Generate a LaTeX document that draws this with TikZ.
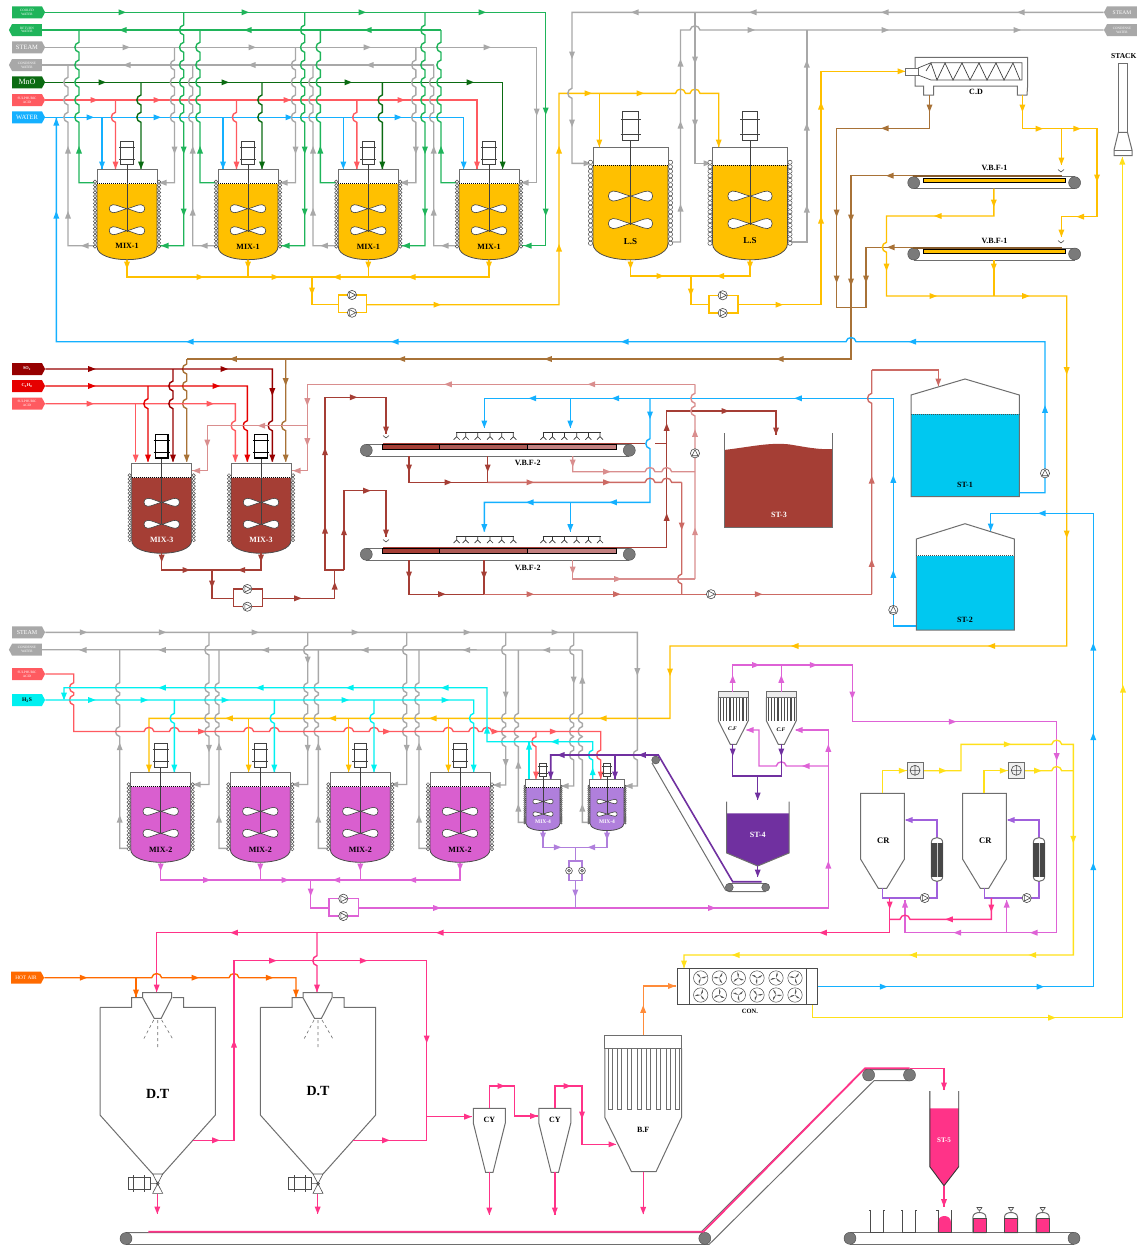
\documentclass[tikz,border=0pt]{standalone}
\usepackage{fontspec}
\setmainfont{Liberation Serif}
\usetikzlibrary{shapes.symbols}
\definecolor{cwgreen}{HTML}{1FB45A}
\definecolor{mngreen}{HTML}{0B6B12}
\definecolor{acidred}{HTML}{FF5A60}
\definecolor{wblue}{HTML}{14B0FF}
\definecolor{lgrey}{HTML}{A8A8A8}
\definecolor{gold}{HTML}{FFC000}
\definecolor{brownp}{HTML}{A87237}
\definecolor{sored}{HTML}{960000}
\definecolor{hcred}{HTML}{E60000}
\definecolor{rosep}{HTML}{D98E8E}
\definecolor{midbrick}{HTML}{CC6A64}
\definecolor{brick}{HTML}{A53E35}
\definecolor{magp}{HTML}{DE62D6}
\definecolor{mixmag}{HTML}{D95FCF}
\definecolor{cyanp}{HTML}{00F0F0}
\definecolor{purp}{HTML}{7030A0}
\definecolor{violp}{HTML}{A060DC}
\definecolor{lilac}{HTML}{B07FDC}
\definecolor{hotp}{HTML}{FF3388}
\definecolor{hotair}{HTML}{FF6A00}
\definecolor{oranp}{HTML}{FF8C3A}
\definecolor{lemon}{HTML}{FFE01A}
\definecolor{tankblue}{HTML}{00C8F0}
\definecolor{edge}{HTML}{6E6E6E}
\definecolor{drumg}{HTML}{7A7A7A}
\tikzset{
  pipe/.style={line width=1.4pt},
  edgeline/.style={draw=edge,line width=1pt},
  motor/.style={draw=black!75,line width=0.8pt,fill=white},
  lbl/.style={font=\bfseries\fontsize{8}{8}\selectfont,inner sep=0pt},
  tagtext/.style={text=white,inner sep=0pt,minimum width=33pt,minimum height=12pt,signal pointer angle=125,
    align=center,font=\fontsize{3.4}{3.8}\selectfont},
  tagright/.style={signal,signal to=east,tagtext},
  tagleft/.style={signal,signal to=west,tagtext}
}
% pipe jumps: \jv going down, \jh going right
\newcommand{\jv}[2]{\foreach \hp in {#2} {-- (#1,\hp-5) .. controls (#1-5.5,\hp-4) and (#1-5.5,\hp+4) .. (#1,\hp+5)}}
\newcommand{\jh}[2]{\foreach \hp in {#2} {-- (\hp-5,#1) .. controls (\hp-4,#1-5.5) and (\hp+4,#1-5.5) .. (\hp+5,#1)}}
% arrows along a pipe: colour, angle, list x/y
\newcommand{\arw}[3]{\foreach \ax/\ay in {#3} \fill[#1,shift={(\ax,\ay)},rotate=#2] (4,0) -- (-3.5,-3) -- (-3.5,3) -- cycle;}
\newcommand{\pump}[3]{\draw[draw=black!70,fill=white,line width=0.6pt] (#1,#2) circle[radius=4.6];
  \draw[draw=black!70,fill=white,line width=0.6pt,shift={(#1,#2)},rotate=#3] (3.6,0) -- (-2.4,-3) -- (-2.4,3) -- cycle;}
\newcommand{\minipump}[2]{\draw[draw=black!70,fill=white,line width=0.6pt] (#1,#2) circle[radius=3.4];
  \draw[draw=black!70,fill=black!30,line width=0.4pt] (#1,#2) circle[radius=1.5];}
\newcommand{\blade}[2]{\draw[draw=black!75,fill=white,line width=0.6pt,shift={(0,#1)},xscale=#2]
  (0,0) .. controls (-5,-1) and (-10,-4) .. (-14,-4) .. controls (-19,-4) and (-19,4) .. (-14,4) .. controls (-10,4) and (-5,1) .. (0,0);}
% stirred vessel: centre x, top y, scale, liquid
\newcommand{\reactor}[4]{\begin{scope}[shift={(#1,#2)},scale=#3]
  \fill[#4] (-30,14.5) -- (-30,77) .. controls (-30,94.3) and (30,94.3) .. (30,77) -- (30,14.5) -- cycle;
  \draw[edgeline] (-30,14.5) -- (-30,0) -- (30,0) -- (30,14.5);
  \draw[draw=black!70,line width=0.8pt] (-30,14.5) -- (-30,77) .. controls (-30,94.3) and (30,94.3) .. (30,77) -- (30,14.5);
  \draw[black,line width=1pt,densely dotted] (-30,14.2) -- (30,14.2);
  \foreach \by in {12,15.6,...,78} {
    \draw[draw=black!70,fill=white,line width=0.5pt] (-32,\by) circle[radius=1.7];
    \draw[draw=black!70,fill=white,line width=0.5pt] (32,\by) circle[radius=1.7];}
  \draw[black!75,line width=0.8pt] (0,-5.4) -- (0,62);
  \blade{39}{1} \blade{39}{-1} \blade{61}{1} \blade{61}{-1}
  \draw[motor] (-6.3,-28.7) rectangle (6.3,-5.4);
  \draw[motor] (-8,-22.7) -- (8,-22.7) (-8,-10.7) -- (8,-10.7);
\end{scope}}
\newcommand{\conveyor}[4]{\draw[edgeline] (#1,#3-#4) -- (#2,#3-#4) (#1,#3+#4) -- (#2,#3+#4);
  \draw[draw=black!70,fill=drumg] (#1,#3) circle[radius=#4];
  \draw[draw=black!70,fill=drumg] (#2,#3) circle[radius=#4];}
\newcommand{\chute}[2]{\draw[black!70,line width=0.6pt] (#1-3,#2-2.5) -- (#1,#2) -- (#1+3,#2-2.5);}
\newcommand{\spray}[2]{\draw[black!80,line width=0.7pt] (#1,#2) -- (#1+58,#2);
  \foreach \nz in {0.7,9.7,21.7,34,45.7,57.3} \draw[black!80,line width=0.7pt] (#1+\nz,#2) -- (#1+\nz,#2+4) (#1+\nz-3,#2+7) -- (#1+\nz,#2+4) -- (#1+\nz+3,#2+7);}
\newcommand{\strip}[1]{\fill[draw=black,fill=brick] (381.7,#1) rectangle (439.3,#1+4.8);
  \fill[draw=black,fill=midbrick!85!black] (439.3,#1) rectangle (527.3,#1+4.8);
  \fill[draw=black,fill=rosep!90!black] (527.3,#1) rectangle (615.7,#1+4.8);}
\newcommand{\fan}[3]{\draw[draw=black!70,line width=0.5pt] (#1,#2) circle[radius=7.2];
  \foreach \fa in {0,120,240} \fill[black!65,shift={(#1,#2)},rotate=#3+\fa] (0,0) .. controls (2,1.6) and (5,1.6) .. (6.2,0) .. controls (4,-0.4) and (2,-0.4) .. (0,0);}
\newcommand{\dryer}[1]{\begin{scope}[shift={(#1,0)}]
  \draw[edgeline] (-57.7,1007.3) -- (-26,1007.3) -- (-26,997.7) -- (-15,997.7) (15,997.7) -- (26,997.7) -- (26,1007.3) -- (57.7,1007.3) -- (57.7,1115) -- (5,1174) (-5,1174) -- (-57.7,1115) -- (-57.7,1007.3);
  \draw[edgeline,fill=white] (-15,992.7) -- (14,992.7) -- (14,997.7) -- (3.5,1018.3) -- (-3.5,1018.3) -- (-15,997.7) -- cycle;
  \draw[edge,dashed,line width=0.6pt] (-4,1020) -- (-14,1039) (0,1020) -- (0,1049) (4,1020) -- (15,1039);
  \draw[draw=black!70,line width=0.6pt,fill=white] (-5,1174) -- (5,1174) -- (-5,1193.3) -- (5,1193.3) -- cycle;
  \draw[black!70,line width=0.6pt] (0,1183.6) circle[radius=1.5] (-7,1183.6) -- (0,1183.6);
  \draw[black!70,line width=0.6pt] (-29.5,1177) rectangle (-7,1189.5) (-24,1175) -- (-24,1191.5) (-13,1175) -- (-13,1191.5);
\end{scope}}
\newcommand{\cyclone}[1]{\draw[edgeline,shift={(#1,0)}] (-16,1108.3) -- (16,1108.3) -- (16,1123) -- (3.7,1172.3) -- (-3.7,1172.3) -- (-16,1123) -- cycle;}
\newcommand{\bagcollector}[1]{\begin{scope}[shift={(#1,0)}]
  \foreach \bx in {-13,-9.75,...,13.1} \draw[black!70,line width=1.2pt] (\bx,697.5) -- (\bx,720.5);
  \draw[edgeline] (-15,697.3) -- (-15,720.7) -- (-3,744.3) -- (3,744.3) -- (15,720.7) -- (15,697.3);
  \draw[edgeline,fill=white!93!black] (-15,691.7) rectangle (15,697.3);
\end{scope}}
\newcommand{\crystal}[1]{\draw[edgeline,shift={(#1,0)}] (0,793.3) -- (43.6,793.3) -- (43.6,859.3) -- (26,888.3) -- (17.6,888.3) -- (0,859.3) -- cycle;}
\newcommand{\heatx}[1]{\begin{scope}[shift={(#1,0)}]
  \draw[edgeline,fill=white] (-5.7,842.5) .. controls (-5.7,836) and (5.7,836) .. (5.7,842.5) -- (5.7,876.5) .. controls (5.7,883) and (-5.7,883) .. (-5.7,876.5) -- cycle;
  \fill[black!72] (-5.7,842.5) rectangle (5.7,877);
  \draw[white!80!black,line width=0.5pt] (0,842.5) -- (0,877);
\end{scope}}
\newcommand{\blower}[2]{\draw[edgeline,fill=black!6] (#1-8,#2-8) rectangle (#1+8,#2+8);
  \draw[black!70,line width=0.6pt] (#1,#2) circle[radius=5] (#1-5,#2) -- (#1+5,#2) (#1,#2-5) -- (#1,#2+5);}
\newcommand{\openpack}[1]{\draw[black!70,line width=0.8pt] (#1-8,1210) -- (#1-6.5,1210) -- (#1-6.5,1232.5) -- (#1+6.5,1232.5) -- (#1+6.5,1210) -- (#1+8,1210);}
\newcommand{\closedpack}[1]{\draw[edgeline,fill=white] (#1-6.5,1232.5) -- (#1-6.5,1217) .. controls (#1-6.5,1211) and (#1+6.5,1211) .. (#1+6.5,1217) -- (#1+6.5,1232.5) -- cycle;
  \fill[hotp,draw=black!70] (#1-6.5,1218.5) rectangle (#1+6.5,1232.5);
  \draw[black!70,line width=0.6pt] (#1-2.5,1207.5) -- (#1+2.5,1207.5) -- (#1+1,1210) -- (#1-1,1210) -- cycle (#1,1210) -- (#1,1212.5);}

\begin{document}
\begin{tikzpicture}[x=1pt,y=-1pt]
\useasboundingbox (0,0) rectangle (1136,1245);

% inlet tags, top
\node[tagright,fill=cwgreen] (tagcool) at (27,12.3) {COOLED\\WATER};
\node[tagleft,fill=cwgreen] (tagret) at (27,30) {RETURN\\WATER};
\node[tagright,fill=lgrey,font=\fontsize{6.5}{7}\selectfont] (tagsteam) at (27,47.3) {STEAM};
\node[tagleft,fill=lgrey] (tagcond) at (27,65) {CONDENSE\\WATER};
\node[tagright,fill=mngreen,font=\fontsize{8}{8}\selectfont] (tagmno) at (27,82.3) {MnO};
\node[tagright,fill=acidred] (tagacid) at (27,100) {SULPHURIC\\ACID};
\node[tagright,fill=wblue,font=\fontsize{6.5}{7}\selectfont] (tagwater) at (27,117.3) {WATER};

% headers
\draw[pipe,cwgreen] (tagcool.east) -- (545.7,12.3) -- (545.7,245.7) -- (522,245.7);
\draw[pipe,cwgreen] (tagret.east) -- (441,30);
\draw[pipe,lgrey] (tagsteam.east) -- (536.7,47.3) -- (536.7,182.7) -- (522,182.7);
\draw[pipe,lgrey] (tagcond.east) -- (433.7,65);
\draw[pipe,mngreen] (tagmno.east) -- (502.7,82.3) -- (502.7,169);
\draw[pipe,acidred] (tagacid.east) -- (477,100) -- (477,169);
\draw[pipe,wblue] (tagwater.east) -- (463.7,117.3) -- (463.7,169);
\arw{cwgreen}{0}{122/12.3,245/12.3,362/12.3,482/12.3}
\arw{cwgreen}{180}{123/30,248/30,368/30}
\arw{lgrey}{0}{126/47.3,252/47.3,367/47.3,487/47.3}
\arw{lgrey}{180}{127/65,252/65,370/65}
\arw{mngreen}{0}{102/82.3,225/82.3,348/82.3,470/82.3}
\arw{acidred}{0}{94/100,157/100,287/100,401/100}
\arw{wblue}{0}{90/117.3,157/117.3,289/117.3,398/117.3}
\arw{cwgreen}{270}{545.7/111,545.7/212}
\arw{lgrey}{270}{536.7/112}

% branches of MIX-1
\draw[pipe,lgrey] (68,65) \jv{68}{82.3,100,117.3} -- (68,245.7) -- (95,245.7);
\arw{lgrey}{90}{68/150,68/215}
\arw{lgrey}{180}{85/245.7}
\foreach \cx in {127,248,368.3,489} {
  \draw[pipe,cwgreen] (\cx-48,30) \jv{\cx-48}{47.3,65,82.3,100,117.3} -- (\cx-48,182.7) -- (\cx-32,182.7);
  \arw{cwgreen}{90}{\cx-48/150}
}
\foreach \cx in {248,368.3,489} {
  \draw[pipe,lgrey] (\cx-55.3,65) \jv{\cx-55.3}{82.3,100,117.3} -- (\cx-55.3,245.7) -- (\cx-32,245.7);
  \arw{lgrey}{90}{\cx-55.3/150,\cx-55.3/212}
  \arw{lgrey}{180}{\cx-44/245.7}
}
\foreach \cx in {127,248,368.3} {
  \draw[pipe,wblue] (\cx-25,117.3) -- (\cx-25,169);
  \draw[pipe,acidred] (\cx-11.5,100) \jv{\cx-11.5}{117.3} -- (\cx-11.5,169);
  \draw[pipe,mngreen] (\cx+14,82.3) \jv{\cx+14}{100,117.3} -- (\cx+14,169);
  \draw[pipe,lgrey] (\cx+47.5,47.3) \jv{\cx+47.5}{65,82.3,100,117.3} -- (\cx+47.5,182.7) -- (\cx+32,182.7);
  \draw[pipe,cwgreen] (\cx+56.7,12.3) \jv{\cx+56.7}{30,47.3,65,82.3,100,117.3} -- (\cx+56.7,245.7) -- (\cx+32,245.7);
  \arw{wblue}{270}{\cx-25/165}
  \arw{acidred}{270}{\cx-11.5/165}
  \arw{mngreen}{270}{\cx+14/165}
  \arw{lgrey}{270}{\cx+47.5/150}
  \arw{lgrey}{180}{\cx+36/182.7}
  \arw{cwgreen}{270}{\cx+56.7/150,\cx+56.7/212}
  \arw{cwgreen}{180}{\cx+38/245.7}
}
\arw{wblue}{270}{463.7/165}
\arw{acidred}{270}{477/165}
\arw{mngreen}{270}{502.7/165}
\arw{lgrey}{180}{525/182.7}
\arw{cwgreen}{180}{528/245.7}

% MIX-1 vessels
\foreach \cx in {127,248,368.3,489} \reactor{\cx}{169.7}{1}{gold};
\node[lbl] (mixa) at (127,245.5) {MIX-1};
\node[lbl] (mixb) at (248,246.5) {MIX-1};
\node[lbl] (mixc) at (368.3,246.5) {MIX-1};
\node[lbl] (mixd) at (489,246.5) {MIX-1};

% MIX-1 discharge
\draw[pipe,gold] (127,260) -- (127,277) -- (489,277) -- (489,260);
\draw[pipe,gold] (248,260) -- (248,277) (368.3,260) -- (368.3,277);
\draw[pipe,gold] (312,277) -- (312,304.7) -- (338.3,304.7) -- (338.3,295) -- (366.7,295) -- (366.7,312.7) -- (338.3,312.7) -- (338.3,304.7);
\draw[pipe,gold] (366.7,304.7) -- (559,304.7) -- (559,93.3) -- (572,93.3) \jh{93.3}{680.5,695} -- (718.7,93.3) -- (718.7,147);
\draw[pipe,gold] (599.3,93.3) -- (599.3,147);
\arw{gold}{270}{127/265,248/265,368.3/265,489/265,312/291,599.3/143,718.7/143}
\arw{gold}{0}{200/277,275/277,437/304.7,588/93.3,640/93.3}
\arw{gold}{180}{337/277,412/277}
\arw{gold}{90}{559/248,559/150}
\pump{352}{295}{0}
\pump{352}{312.7}{0}

% L.S vessels and steam
\node[tagleft,fill=lgrey,font=\fontsize{5.5}{6}\selectfont] (tagsteamr) at (1122,12.3) {STEAM};
\node[tagleft,fill=lgrey] (tagcondr) at (1122,30) {CONDENSE\\WATER};
\draw[pipe,lgrey] (tagsteamr.west) -- (572,12.3) \jv{572}{93.3} -- (572,163.3) -- (590,163.3);
\draw[pipe,lgrey] (695,12.3) -- (695,163.3) -- (709,163.3);
\draw[pipe,lgrey] (tagcondr.west) -- (700,30) .. controls (699,24.5) and (691,24.5) .. (690,30) -- (680.5,30) -- (680.5,242) -- (671,242);
\draw[pipe,lgrey] (806.8,30) -- (806.8,242) -- (790,242);
\arw{lgrey}{180}{1021/12.3,885/12.3,753/12.3,635/12.3}
\arw{lgrey}{0}{751/30,885/30,1017/30,587/163.3,707/163.3}
\arw{lgrey}{270}{572/55,572/123,695/60,695/123}
\arw{lgrey}{90}{680.5/63,680.5/125,680.5/208,806.8/64,806.8/127,806.8/209}
\reactor{630.5}{147.3}{1.25}{gold}
\reactor{750}{147.3}{1.25}{gold}
\node[lbl,font=\bfseries\fontsize{9}{9}\selectfont] (lsa) at (630.5,242) {L.S};
\node[lbl,font=\bfseries\fontsize{9}{9}\selectfont] (lsb) at (750,241) {L.S};
\draw[pipe,gold] (630.5,260) -- (630.5,276) -- (750,276) -- (750,260);
\draw[pipe,gold] (690.8,276) -- (690.8,304.7) -- (708.8,304.7) -- (708.8,295.3) -- (737.8,295.3) -- (737.8,313) -- (708.8,313) -- (708.8,304.7);
\draw[pipe,gold] (737.8,304.7) -- (821,304.7) -- (821,71.3) -- (905,71.3);
\arw{gold}{270}{630.5/265,750/265,690.8/292}
\arw{gold}{0}{660/276,779/304.7,901/71.3}
\arw{gold}{180}{720.5/276}
\arw{gold}{90}{821/220,821/106}
\pump{722.7}{295.3}{0}
\pump{722.7}{313}{0}

% C.D screw
\draw[edgeline,fill=white] (915,57.3) -- (1027.6,57.3) -- (1027.6,86) -- (1027,95) -- (1017.3,95) -- (1017.3,86) -- (933.6,86) -- (933.6,95) -- (923.6,95) -- (923.6,86) -- (915,86) -- cycle;
\draw[edgeline,fill=white] (905.6,68.3) rectangle (918,75);
\draw[black!70,line width=0.7pt] (918,68) -- (931,62.7) -- (1022,62.7) -- (1022,80) -- (931,80) -- (918,75);
\draw[black!75,line width=0.7pt] (926,71) -- (931,63) -- (937,80) -- (945,63) -- (953,80) -- (962,63) -- (970,80) -- (979,63) -- (987,80) -- (996,63) -- (1004,80) -- (1013,63) -- (1020,80);
\node[lbl] (cdlabel) at (976,91.7) {C.D};

% V.B.F-1 belts
\conveyor{913.7}{1074.6}{182.7}{6}
\conveyor{913.7}{1074.6}{254}{6}
\draw[draw=black,fill=gold] (923.3,177.7) rectangle (1064.7,181.7);
\draw[draw=black,fill=gold] (923.3,249) rectangle (1064.7,253);
\chute{1061}{172}
\chute{1061}{243}
\node[lbl] (vbfa) at (994.5,167.7) {V.B.F-1};
\node[lbl] (vbfb) at (994.5,240.7) {V.B.F-1};

% brown cake
\draw[pipe,brownp] (929.5,95) -- (929.5,128.3) -- (836.6,128.3) -- (836.6,307.3) -- (866,307.3) -- (866,247.3) -- (1062,247.3);
\draw[pipe,brownp] (1062,175.7) -- (851,175.7) -- (851,359) -- (186.7,359);
\draw[brownp!80!black,line width=1.8pt] (912.6,176.2) -- (1062,176.2) (912.6,247.8) -- (1062,247.8);
\draw[pipe,brownp] (186.7,359) \jv{186.7}{369,386,403.7} -- (186.7,461.7);
\draw[pipe,brownp] (285.7,359) \jv{285.7}{425.7} -- (285.7,461.7);
\arw{brownp}{270}{929.5/108,836.6/213,836.6/279,851/218,851/282,866/279,285.7/381.7,186.7/458,285.7/458}
\arw{brownp}{180}{885/128.3,890/175.7,891/247.3,780/359,548.3/359,401.7/359,233.3/359}

% filtrate
\draw[pipe,gold] (993.8,188.7) -- (993.8,216) -- (886.5,216) \jv{886.5}{247.3} -- (886.5,296) -- (1066.7,296) -- (1066.7,646) -- (670,646) -- (670,718.3) -- (149,718.3) -- (149,772);
\draw[pipe,gold] (993.8,259.8) -- (993.8,296);
\draw[pipe,gold] (1022.4,95) -- (1022.4,128.7) -- (1097,128.7) -- (1097,216.7) -- (1061.4,216.7) -- (1061.4,237);
\draw[pipe,gold] (1061.4,128.7) -- (1061.4,165);
\arw{gold}{270}{1022.4/108,1097/178,1061.4/161,1061.4/233,993.8/203,993.8/267,886.5/267,1066.7/370.7,1066.7/534,670/672}
\arw{gold}{0}{1039/128.7,1076.8/128.7,933/296,1025.7/296}
\arw{gold}{180}{1080.5/216.7,938/216,991.7/646,795/646,603/718.3,433/718.3,332.7/718.3,229.3/718.3}

% stack
\draw[edgeline,fill=white] (1118.3,63.3) rectangle (1127.5,132.3);
\draw[edgeline,fill=white] (1118.3,132.3) -- (1114,150) -- (1114,155.7) -- (1132,155.7) -- (1132,150) -- (1127.5,132.3) -- cycle;
\draw[edgeline] (1114,150) -- (1132,150);
\node[lbl,font=\bfseries\fontsize{7.5}{8}\selectfont] (stacklabel) at (1123.8,56) {STACK};
\draw[pipe,lemon] (812.7,1004.3) -- (812.7,1017.7) -- (1122.3,1017.7) -- (1122.3,157);
\arw{lemon}{90}{1122.3/161,1123/689}
\arw{lemon}{0}{1051.7/1017.7}

% water return
\draw[pipe,wblue] (56.3,117.3) -- (56.3,341.7) \jh{341.7}{851} -- (1045,341.7) -- (1045,492.7) -- (1019.3,492.7);
\arw{wblue}{90}{56.3/122,56.3/215,1045/409.3}
\arw{wblue}{180}{912.6/341.7,625/341.7,395/341.7,190/341.7}
\pump{1045}{473.3}{90}

% inlet tags, MIX-3
\node[tagright,fill=sored,font=\fontsize{4.4}{5}\bfseries\selectfont] (tagso) at (27,369) {SO\textsubscript{2}};
\node[tagright,fill=hcred,font=\fontsize{4.4}{5}\bfseries\selectfont] (tagch) at (27,386) {C\textsubscript{4}H\textsubscript{8}};
\node[tagright,fill=acidred] (tagacidb) at (27,403.7) {SULPHURIC\\ACID};
\draw[pipe,sored] (tagso.east) -- (272.3,369) \jv{272.3}{425.7} -- (272.3,461.7);
\draw[pipe,hcred] (tagch.east) -- (247.3,386) \jv{247.3}{425.7} -- (247.3,461.7);
\draw[pipe,acidred] (tagacidb.east) -- (235.3,403.7) \jv{235.3}{425.7} -- (235.3,461.7);
\draw[pipe,acidred] (135.7,403.7) -- (135.7,461.7);
\draw[pipe,hcred] (148,386) \jv{148}{403.7} -- (148,461.7);
\draw[pipe,sored] (173,369) \jv{173}{386,403.7} -- (173,461.7);
\arw{sored}{0}{91.7/369,224/369}
\arw{hcred}{0}{91.7/386,216/386}
\arw{acidred}{0}{90/403.7,210/403.7}
\arw{sored}{270}{272.3/391.7,173/458,272.3/458}
\arw{hcred}{270}{148/458,247.3/458}
\arw{acidred}{270}{135.7/458,235.3/458}

% MIX-3 vessels
\begin{scope}[motor/.append style={draw=black,line width=1.3pt}]
\reactor{161.7}{463.3}{1}{brick}
\reactor{261}{463.3}{1}{brick}
\end{scope}
\node[lbl,text=white] (mixe) at (161.7,540) {MIX-3};
\node[lbl,text=white] (mixf) at (261,540) {MIX-3};
\draw[pipe,brick] (161.7,553) -- (161.7,570) -- (261,570) -- (261,553);
\draw[pipe,brick] (212,570) -- (212,598.3) -- (233.3,598.3) -- (233.3,589) -- (262.7,589) -- (262.7,606.7) -- (233.3,606.7) -- (233.3,598.3);
\draw[pipe,brick] (262.7,598.3) -- (334.7,598.3) -- (334.7,570);
\draw[pipe,brick] (344,570) -- (325,570) -- (325,397.3) -- (386,397.3) -- (386,434.3);
\draw[pipe,brick] (344,570) -- (344,490.7) -- (386,490.7) -- (386,536.7);
\arw{brick}{270}{161.7/558,261/558,212/584,386/430,386/533}
\arw{brick}{0}{186/570,297.7/598.3,353.3/397.3,366.7/490.7}
\arw{brick}{180}{241.7/570}
\arw{brick}{90}{334.7/586,325/451.7,325/530,344/531.7}
\pump{247.3}{589}{0}
\pump{247.3}{606.7}{0}

% V.B.F-2 belts
\conveyor{366.3}{629.3}{450.3}{6}
\conveyor{366.3}{629.3}{554.3}{6}
\strip{444.3}
\strip{548.3}
\spray{456}{432.7}
\spray{542.7}{432.7}
\spray{456}{536}
\spray{542.7}{536}
\chute{386}{438}
\chute{386}{542}
\node[lbl] (vbfc) at (527.7,463.3) {V.B.F-2};
\node[lbl] (vbfd) at (527.7,568.3) {V.B.F-2};

% wash water, ST-1 and ST-2
\draw[pipe,wblue] (484.3,428) -- (484.3,398.3) -- (893.3,398.3) -- (893.3,626) -- (916.3,626);
\draw[pipe,wblue] (570.3,398.3) -- (570.3,428);
\draw[pipe,wblue] (650,398.3) \jv{650}{443.7} -- (650,502.3) -- (484.3,502.3) -- (484.3,531.7);
\draw[pipe,wblue] (570.3,502.3) -- (570.3,531.7);
\arw{wblue}{180}{532.7/398.3,615.7/398.3,798.3/398.3,613.3/502.3,530/502.3}
\arw{wblue}{270}{650/415,484.3/424,570.3/424,484.3/527.7,570.3/527.7}
\arw{wblue}{90}{893.3/479.3,893.3/574.3}
\pump{893.3}{610}{90}

% cake and wash liquors
\draw[pipe,brick] (383,443.5) -- (645,443.5) (655,443.5) -- (666.7,443.5);
\draw[pipe,brick] (383,547.5) -- (666.7,547.5) -- (666.7,411) -- (776,411) -- (776,435);
\arw{brick}{90}{666.7/427.3,666.7/517.3}
\arw{brick}{0}{725/411}
\arw{brick}{270}{776/431}
\draw[pipe,brick] (409,456) -- (409,482.3) -- (487.7,482.3) -- (487.7,456);
\draw[pipe,brick] (409,560) -- (409,594.2) -- (484,594.2) -- (484,560);
\draw[pipe,midbrick] (487.7,482.3) \jh{482.3}{650,666.7} -- (681.7,482.3);
\draw[pipe,midbrick] (681.7,482.3) \jv{681.7}{579} -- (681.7,594.2);
\draw[pipe,midbrick] (484,594.2) -- (871.7,594.2);
\draw[pipe,midbrick] (871.7,370) \jv{871.7}{398.3} -- (871.7,594.2);
\draw[pipe,midbrick] (871.7,370) -- (938.3,370) -- (938.3,386);
\draw[pipe,rosep] (572.7,456) -- (572.7,471.7) \jh{471.7}{650,666.7} -- (695,471.7);
\draw[pipe,rosep] (572.7,560) -- (572.7,579) -- (695,579);
\draw[pipe,rosep] (695,384.3) \jv{695}{398.3,411} -- (695,579);
\draw[pipe,rosep] (695,384.3) -- (307.3,384.3) -- (307.3,470.7) -- (292,470.7);
\draw[pipe,rosep] (307.3,425.7) -- (207.3,425.7) -- (207.3,470.7) -- (192,470.7);
\arw{brick}{270}{409/468,487.7/468,409/575,484/575}
\arw{brick}{0}{448/482.3,441.7/594.2}
\arw{midbrick}{0}{530/482.3,606.7/482.3,530/594.2,616.7/594.2,758.3/594.2}
\arw{midbrick}{270}{681.7/526,938.3/382}
\arw{midbrick}{90}{871.7/480,871.7/563.3}
\arw{rosep}{270}{572.7/463,572.7/570,307.3/401.7,307.3/441.7,207.3/443}
\arw{rosep}{0}{606.7/471.7,617.7/579}
\arw{rosep}{90}{695/531.7,695/433.3}
\arw{rosep}{180}{591.7/384.3,448.3/384.3,261.7/425.7,297/470.7,196.7/470.7}
\pump{695}{453.3}{90}
\pump{711}{594.2}{0}

% storage tanks
\fill[brick] (724,450) .. controls (750,447) and (770,442) .. (790,444.5) .. controls (805,447) and (820,450) .. (832.7,449) -- (832.7,527.3) -- (724,527.3) -- cycle;
\draw[edgeline] (724,433.3) -- (724,527.3) -- (832.7,527.3) -- (832.7,433.3);
\node[lbl,text=white] (stc) at (779,515) {ST-3};
\fill[tankblue] (911,414) rectangle (1019.3,496.7);
\draw[edgeline] (911,496.7) -- (911,395) -- (965,379) -- (1019.3,395) -- (1019.3,496.7) -- cycle;
\draw[black!70,line width=1pt,densely dotted] (911,414) -- (1019.3,414);
\node[lbl] (sta) at (965,485) {ST-1};
\fill[tankblue] (916.3,555.7) rectangle (1014.3,630);
\draw[edgeline] (916.3,630) -- (916.3,539) -- (965,523.7) -- (1014.3,539) -- (1014.3,630) -- cycle;
\draw[black!70,line width=1pt,densely dotted] (916.3,555.7) -- (1014.3,555.7);
\node[lbl] (stb) at (965,620) {ST-2};
\draw[pipe,wblue] (816.7,986.7) -- (1093.3,986.7) -- (1093.3,513.3) -- (990.7,513.3) -- (990.7,530.7);
\arw{wblue}{0}{883.3/986.7,1040/986.7}
\arw{wblue}{90}{1093.3/866.7,1093.3/736.7,1093.3/647}
\arw{wblue}{180}{1042/513.3}
\arw{wblue}{270}{990.7/527}

% inlet tags, MIX-2
\node[tagright,fill=lgrey,font=\fontsize{6}{7}\selectfont] (tagsteamb) at (27,632.3) {STEAM};
\node[tagleft,fill=lgrey] (tagcondb) at (27,649.7) {CONDENSE\\WATER};
\node[tagright,fill=acidred] (tagacidc) at (27,674) {SULPHURIC\\ACID};
\node[tagright,fill=cyanp,text=black,font=\fontsize{5.5}{6}\bfseries\selectfont] (tagsulf) at (27,700) {H\textsubscript{2}S};
\draw[pipe,lgrey] (tagsteamb.east) -- (637.3,632.3) \jv{637.3}{755} -- (637.3,786) -- (625,786);
\draw[pipe,lgrey] (tagcondb.east) -- (582.3,650);
\arw{lgrey}{0}{83.3/632.3,162.3/632.3,255/632.3,355/632.3,467/632.3,555/632.3}
\arw{lgrey}{180}{83/650,162.3/650,265.7/650,365/650,466.7/650,546.7/650}
\foreach \sx/\sv in {209/192,307.7/292,406.7/392} {
  \draw[pipe,lgrey] (\sx,632.3) \jv{\sx}{650,687.7,700,718.3,731.5} -- (\sx,784.5) -- (\sv,784.5);
  \arw{lgrey}{270}{\sx/748.3}
  \arw{lgrey}{180}{\sx-12/784.5}
}
\draw[pipe,lgrey] (505.7,632.3) \jv{505.7}{650,718.3,731.5,741.7} -- (505.7,785) -- (493,785);
\draw[pipe,lgrey] (573.7,632.3) \jv{573.7}{650,718.3,731.5,741.7,755} -- (573.7,786) -- (561,786);
\arw{lgrey}{270}{307.7/660,505.7/695,505.7/762.7,573.7/680,637.3/671.7}
\arw{lgrey}{180}{497/785,565/786,629/786}
\foreach \cdx/\cdv in {219/230.5,318.3/330,419/430} {
  \draw[pipe,lgrey] (\cdx,650) \jv{\cdx}{687.7,700,718.3,731.5} -- (\cdx,848.3) -- (\cdv,848.3);
  \arw{lgrey}{90}{\cdx/746.7,\cdx/819}
}
\draw[pipe,lgrey] (119.7,650) \jv{119.7}{687.7,700,731.5} -- (119.7,848.3) -- (130,848.3);
\arw{lgrey}{90}{119.7/746.7,119.7/819}
\draw[pipe,lgrey] (518.3,650) \jv{518.3}{718.3,731.5,741.7} -- (518.3,822.3) -- (526,822.3);
\draw[pipe,lgrey] (582.3,650) \jv{582.3}{718.3,731.5,741.7,755} -- (582.3,822.3) -- (590,822.3);
\arw{lgrey}{90}{518.3/765,518.3/808,582.3/680,582.3/808}

% acid and H2S
\draw[pipe,acidred] (tagacidc.east) -- (73.7,674) \jv{73.7}{687.7,700} -- (73.7,731.5) \jh{731.5}{149,174.3,248.7,274.3,348.7,374,448.3,473.7,487} -- (600.7,731.5) \jv{600.7}{755} -- (600.7,779);
\draw[pipe,acidred] (536,731.5) \jv{536}{741.7} -- (536,779);
\arw{acidred}{0}{201.7/731.5,386.7/731.5,495/731.5,553.3/731.5}
\arw{acidred}{270}{536/775,600.7/775}
\draw[pipe,cyanp] (tagsulf.east) -- (473.7,700) \jv{473.7}{718.3} -- (473.7,772);
\foreach \hx in {174.3,274.3,374} {
  \draw[pipe,cyanp] (\hx,700) \jv{\hx}{718.3} -- (\hx,772);
  \arw{cyanp}{270}{\hx/768}
}
\draw[pipe,cyanp] (64,699) -- (64,687.7) -- (487,687.7) -- (487,741.7) -- (592.7,741.7) \jv{592.7}{755} -- (592.7,779);
\draw[pipe,cyanp] (529,741.7) -- (529,779);
\arw{cyanp}{0}{91.7/700,144/700,225/700,345/700,445/700}
\arw{cyanp}{180}{162.3/687.7,260/687.7,350/687.7,445/687.7,555/741.7}
\arw{cyanp}{270}{64/696,473.7/768}
\arw{cyanp}{90}{487/730,529/746,592.7/771.7}
\foreach \yx in {248.7,348.7,448.3} {
  \draw[pipe,gold] (\yx,718.3) -- (\yx,772);
  \arw{gold}{270}{\yx/768}
}
\arw{gold}{270}{149/768}

% MIX-2 and MIX-4 vessels
\foreach \cx in {160.7,260.3,360.3,460} \reactor{\cx}{772.3}{1}{mixmag};
\node[lbl] (mixg) at (160.7,849.5) {MIX-2};
\node[lbl] (mixh) at (260.3,849.5) {MIX-2};
\node[lbl] (mixi) at (360.3,849.5) {MIX-2};
\node[lbl] (mixj) at (460,849.5) {MIX-2};
\reactor{543}{779.3}{0.57}{lilac}
\reactor{607}{779.3}{0.57}{lilac}
\node[lbl,text=white,font=\bfseries\fontsize{5.5}{6}\selectfont] (mixk) at (543,822) {MIX-4};
\node[lbl,text=white,font=\bfseries\fontsize{5.5}{6}\selectfont] (mixl) at (607,822) {MIX-4};

% MIX-2 discharge, C.F feed
\draw[pipe,magp] (160.7,862.7) -- (160.7,880) -- (460,880) -- (460,862.7);
\draw[pipe,magp] (260.3,862.7) -- (260.3,880) (360.3,862.7) -- (360.3,880);
\draw[pipe,magp] (310.7,880) -- (310.7,908) -- (329,908) -- (329,898.7) -- (358.3,898.7) -- (358.3,916) -- (329,916) -- (329,908);
\draw[pipe,magp] (358.3,908) -- (828.3,908) -- (828.3,730) -- (796,730);
\draw[pipe,magp] (746.7,730) -- (759,730) -- (759,766) \jh{766}{781.3} -- (828.3,766);
\arw{magp}{270}{160.7/867,260.3/867,360.3/867,460/867,310.7/892}
\arw{magp}{0}{206.7/880,285/880,436.7/908,711.7/908}
\arw{magp}{180}{336.7/880,412.7/880,799/730,750/730,806/766}
\arw{magp}{90}{828.3/865,828.3/748.3}
\pump{343.3}{898.7}{0}
\pump{343.3}{916}{0}

% MIX-4 discharge
\draw[pipe,lilac] (543,830.7) -- (543,847.3) -- (607,847.3) -- (607,830.7);
\draw[pipe,lilac] (575.3,847.3) -- (575.3,861) -- (569,861) -- (569,880.7) -- (582,880.7) -- (582,861) -- (575.3,861);
\draw[pipe,lilac] (575.3,880.7) -- (575.3,907.7);
\arw{lilac}{270}{543/836,607/836,575.3/893}
\arw{lilac}{0}{557.3/847.3}
\arw{lilac}{180}{591.7/847.3}
\minipump{569}{870.7}
\minipump{582}{870.7}

% C.F and ST-4
\bagcollector{733.3}
\bagcollector{781.3}
\node[lbl,font=\bfseries\itshape\fontsize{5.5}{6}\selectfont] (cfa) at (732.5,729) {C.F};
\node[lbl,font=\bfseries\itshape\fontsize{5.5}{6}\selectfont] (cfb) at (781,730) {C.F};
\draw[pipe,magp] (732.7,691.7) -- (732.7,665) -- (852.3,665) -- (852.3,721.7) -- (1056.7,721.7) -- (1056.7,932.7) -- (905,932.7) -- (905,900);
\draw[pipe,magp] (781.3,691.7) -- (781.3,665);
\draw[pipe,magp] (1006.7,932.7) -- (1006.7,900);
\arw{magp}{90}{732.7/679.3,781.3/679.3,905/904,1006.7/904}
\arw{magp}{0}{755.7/665,813.3/665,952.3/721.7}
\arw{magp}{270}{852.3/695,1056.7/756.7}
\arw{magp}{180}{1034/932.7,957.7/932.7}
\draw[pipe,purp] (732.7,744.3) -- (732.7,776) -- (781.3,776) -- (781.3,744.3);
\draw[pipe,purp] (757.7,776) -- (757.7,800);
\arw{purp}{270}{732.7/752,781.3/752,757.7/796}
\fill[purp] (726.7,813.3) -- (789,813.3) -- (789,853) -- (757.7,866) -- (726.7,853) -- cycle;
\draw[edgeline] (726.7,801.7) -- (726.7,853) -- (757.7,866) -- (789,853) -- (789,801.7);
\node[lbl,text=white] (std) at (757.7,835) {ST-4};
\draw[pipe,purp] (757.7,866) -- (757.7,877);
\arw{purp}{270}{757.7/873}

% belt to MIX-4
\draw[edgeline] (652,763) -- (725.5,890) -- (729,891.5) -- (765.7,891.5);
\draw[edgeline] (729,883) -- (765.7,883);
\draw[draw=black!70,fill=drumg] (655.7,760) circle[radius=4];
\draw[draw=black!70,fill=drumg] (729.3,887.3) circle[radius=4];
\draw[draw=black!70,fill=drumg] (765.7,887.3) circle[radius=4];
\draw[pipe,purp,line width=1.6pt] (761.7,881.7) -- (732.7,881.7) -- (658.3,755) -- (550.7,755) -- (550.7,779);
\draw[pipe,purp] (615,755) -- (615,779);
\arw{purp}{180}{642.3/755,561/755}
\arw{purp}{270}{550.7/775,615/775}

% crystallizers
\crystal{860.7}
\crystal{962.7}
\node[lbl,font=\bfseries\fontsize{8.5}{9}\selectfont] (cra) at (883.3,840.7) {CR};
\node[lbl,font=\bfseries\fontsize{8.5}{9}\selectfont] (crb) at (985.3,840.7) {CR};
\draw[pipe,lemon] (882.3,793.3) -- (882.3,770.7) -- (907,770.7);
\draw[pipe,lemon] (923,770.7) -- (961,770.7) -- (961,744.3) \jh{744.3}{1056.7} -- (1073.3,744.3) -- (1073.3,955) -- (684,955) -- (684,967.7);
\draw[pipe,lemon] (984,793.3) -- (984,770.7) -- (1008.3,770.7);
\draw[pipe,lemon] (1024.3,770.7) \jh{770.7}{1056.7} -- (1073.3,770.7);
\arw{lemon}{0}{902.3/770.7,942.7/770.7,1007.3/744.3,1003.3/770.7,1037.7/770.7}
\arw{lemon}{270}{1073.3/839.3,684/964}
\arw{lemon}{180}{1032.7/955,913.3/955,736/955}
\blower{915}{770.3}
\blower{1016.3}{770.3}
\foreach \rx in {0,102} {
  \draw[pipe,violp] (882.3+\rx,888.3) -- (882.3+\rx,898) -- (937+\rx,898) -- (937+\rx,820) -- (905.7+\rx,820);
  \arw{violp}{180}{909+\rx/820}
  \heatx{937+\rx}
  \pump{924.7+\rx}{898}{0}
}

% slurry to dryers
\draw[pipe,hotp] (889.7,898) -- (889.7,932.7) -- (156.7,932.7) -- (156.7,992);
\draw[pipe,hotp] (889.7,919.3) \jh{919.3}{905} -- (991.3,919.3) -- (991.3,898);
\draw[pipe,hotp] (317,932.7) \jv{317}{960.7} -- (317,992);
\arw{hotp}{270}{889.7/905,991.3/908,156.7/988,317/988}
\arw{hotp}{180}{949.3/919.3,823.3/932.7,440/932.7,234.3/932.7}

% hot air
\node[tagright,fill=hotair,font=\fontsize{5.3}{6}\selectfont] (taghot) at (26,977.7) {HOT AIR};
\draw[pipe,hotair] (taghot.east) \jh{977.7}{156.7,234} -- (296,977.7) -- (296,997);
\draw[pipe,hotair] (136,977.7) -- (136,997);
\arw{hotair}{0}{83.3/977.7,195/977.7,269.3/977.7}
\arw{hotair}{270}{136/993,296/993}

% dryers
\dryer{157.7}
\dryer{318}
\node[lbl,font=\bfseries\fontsize{14}{14}\selectfont] (dta) at (157.7,1094) {D.T};
\node[lbl,font=\bfseries\fontsize{14}{14}\selectfont] (dtb) at (318,1091) {D.T};
\draw[pipe,hotp] (192.7,1140.3) -- (234,1140.3) -- (234,960.7) -- (426.7,960.7) -- (426.7,1140.3) -- (353.3,1140.3);
\draw[pipe,hotp] (426.7,1116.7) -- (471.7,1116.7);
\draw[pipe,hotp] (157.3,1194) -- (157.3,1214);
\draw[pipe,hotp] (317.7,1194) -- (317.7,1214);
\arw{hotp}{0}{215.7/1140.3,385.7/1140.3,272.7/960.7,363.3/960.7,467.7/1116.7}
\arw{hotp}{90}{234/1044}
\arw{hotp}{270}{426.7/1039,157.3/1210,317.7/1210}

% cyclones and bag filter
\cyclone{489.3}
\cyclone{554.8}
\node[lbl] (cya) at (489.3,1120) {CY};
\node[lbl] (cyb) at (554.8,1120) {CY};
\draw[edgeline] (604.8,1035) rectangle (681.5,1048.3);
\draw[edgeline] (604.8,1048.3) -- (604.8,1117.3) -- (631.5,1171.7) -- (656,1171.7) -- (681.5,1117.3) -- (681.5,1048.3);
\foreach \bx in {608,617.7,...,676} \draw[edgeline] (\bx,1048.3) -- (\bx,1109.3) -- (\bx+4,1109.3) -- (\bx+4,1048.3);
\node[lbl] (bflabel) at (643.2,1130) {B.F};
\draw[pipe,hotp] (489.3,1108.3) -- (489.3,1086) -- (514.3,1086) -- (514.3,1116) -- (537.6,1116);
\draw[pipe,hotp] (554.8,1108.3) -- (554.8,1086) -- (582,1086) -- (582,1144.3) -- (616,1144.3);
\draw[pipe,hotp] (489.3,1172.3) -- (489.3,1215);
\draw[pipe,hotp] (554.8,1172.3) -- (554.8,1215);
\draw[pipe,hotp] (643.2,1171.7) -- (643.2,1214.3);
\arw{hotp}{0}{501/1086,533.6/1116,567/1086,612/1144.3}
\arw{hotp}{270}{582/1115,489.3/1211,554.8/1211,643.2/1210.3}
\draw[pipe,oranp] (643.2,1035) -- (643.2,986) -- (675.5,986);
\arw{oranp}{90}{643.2/1009.3}
\arw{oranp}{0}{671.5/986}

% condenser
\draw[draw=black!70,line width=0.8pt,fill=white] (677.3,968.3) rectangle (817.7,1004.3);
\draw[black!70,line width=0.8pt] (689.3,968.3) -- (689.3,1004.3) (806.7,968.3) -- (806.7,1004.3);
\fan{700.7}{978}{15}
\fan{719.3}{978}{60}
\fan{738.3}{978}{100}
\fan{757}{978}{30}
\fan{776}{978}{80}
\fan{795}{978}{50}
\fan{700.7}{995}{70}
\fan{719.3}{995}{90}
\fan{738.3}{995}{40}
\fan{757}{995}{10}
\fan{776}{995}{120}
\fan{795}{995}{85}
\node[lbl,font=\bfseries\fontsize{6.5}{7}\selectfont] (conlabel) at (750,1011.7) {CON.};

% product belt
\draw[edgeline] (126,1232.5) -- (703,1232.5) (126,1244.5) -- (709,1244.5) -- (874,1080.7) -- (909.5,1080.7) (700,1233) -- (864,1069.5) -- (909.5,1069.5);
\draw[draw=black!70,fill=drumg] (126,1238.5) circle[radius=6];
\draw[draw=black!70,fill=drumg] (704.8,1238.3) circle[radius=6];
\draw[draw=black!70,fill=drumg] (868.6,1075) circle[radius=6];
\draw[draw=black!70,fill=drumg] (909.5,1075) circle[radius=6];
\draw[hotp,line width=1.8pt] (148.3,1231.7) -- (703.5,1231.7) -- (865,1068.3) -- (909.5,1068.3);
\draw[pipe,hotp] (909.5,1068.3) -- (944,1068.3) -- (944,1090);
\arw{hotp}{270}{944/1086}

% ST-5 and packing
\fill[hotp] (929.8,1108.3) -- (958.7,1108.3) -- (958.7,1166.7) -- (944,1185.7) -- (929.8,1166.7) -- cycle;
\draw[black!80,line width=0.9pt] (929.8,1091) -- (929.8,1166.7) -- (944,1185.7) -- (958.7,1166.7) -- (958.7,1091);
\node[lbl,text=white,font=\bfseries\fontsize{7}{8}\selectfont] (ste) at (944,1140) {ST-5};
\draw[pipe,hotp] (944,1185.7) -- (944,1206.7);
\arw{hotp}{270}{944/1202.7}
\conveyor{850}{1074}{1238.3}{6}
\openpack{876.8}
\openpack{909}
\fill[hotp] (937.9,1232.5) -- (937.9,1222) .. controls (937.9,1214) and (950.9,1214) .. (950.9,1222) -- (950.9,1232.5) -- cycle;
\openpack{944.4}
\closedpack{979.4}
\closedpack{1011}
\closedpack{1042.7}
\end{tikzpicture}
\end{document}
